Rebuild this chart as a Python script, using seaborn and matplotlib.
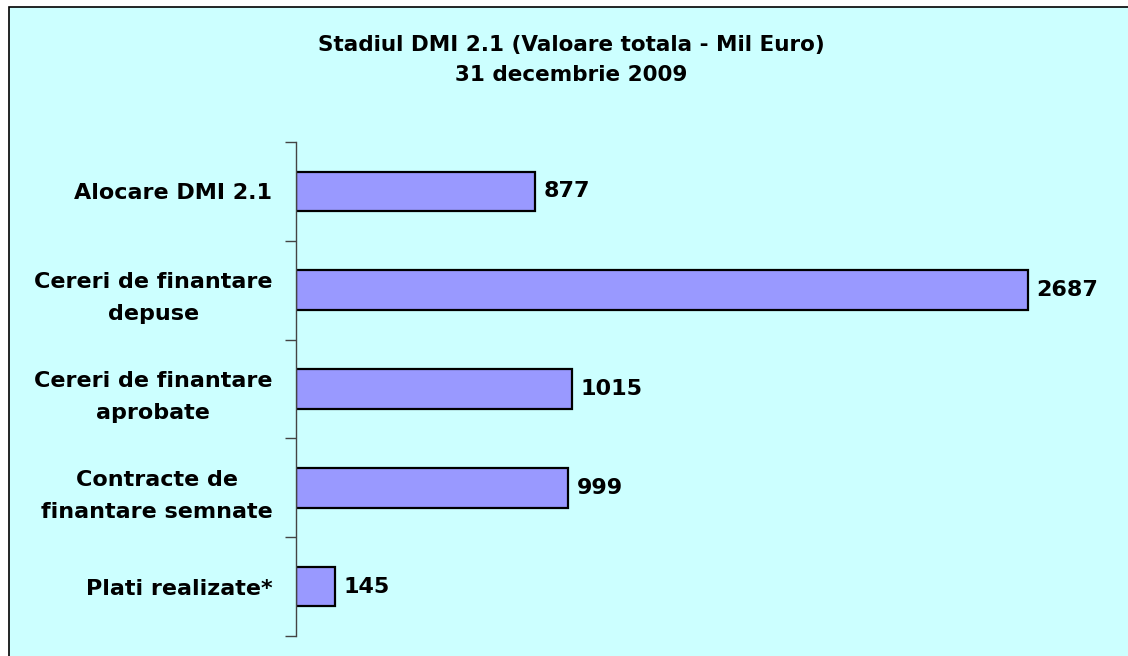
import matplotlib
matplotlib.use("Agg")
import matplotlib.pyplot as plt
from matplotlib.patches import Rectangle
from matplotlib.ticker import FixedLocator
import seaborn as sns
import pandas as pd

categories = [
    "Alocare DMI 2.1",
    "Cereri de finantare\ndepuse",
    "Cereri de finantare\naprobate",
    "Contracte de\nfinantare semnate",
    "Plati realizate*",
]
values = [877, 2687, 1015, 999, 145]
title = "Stadiul DMI 2.1 (Valoare totala - Mil Euro)\n31 decembrie 2009"

sns.set_theme(style="white")
plt.rcParams["font.family"] = ["DejaVu Sans"]
plt.rcParams["text.color"] = "black"
plt.rcParams["ytick.color"] = "black"

W, H = 1128, 656
fig = plt.figure(figsize=(W / 100, H / 100), dpi=100)
fig.patch.set_facecolor("white")

# cyan chart frame (cut off at right and bottom like the original)
frame = Rectangle((9 / W, -0.05), 1.2, 1 - 7 / H + 0.05,
                  transform=fig.transFigure, facecolor="#CCFFFF",
                  edgecolor="black", linewidth=1.2, zorder=-10)
fig.add_artist(frame)

ax = fig.add_axes([296 / W, 1 - 636 / H, (1113 - 296) / W, (636 - 142) / H])
ax.set_facecolor("none")

df = pd.DataFrame({"cat": categories, "val": values})
sns.barplot(data=df, x="val", y="cat", orient="h", color="#9999FF",
            saturation=1, edgecolor="black", linewidth=1.6, width=0.4, ax=ax)

ax.set_xlim(0, 3000)
ax.set_ylim(len(categories) - 0.5, -0.5)
ax.set_xlabel("")
ax.set_ylabel("")
ax.xaxis.set_visible(False)
for s in ["top", "right", "bottom"]:
    ax.spines[s].set_visible(False)
ax.spines["left"].set_color("#444444")
ax.spines["left"].set_linewidth(1.0)

ax.yaxis.set_minor_locator(FixedLocator([i - 0.5 for i in range(len(categories) + 1)]))
ax.tick_params(axis="y", which="major", length=0, pad=17, labelcolor="black")
ax.tick_params(axis="y", which="minor", left=True, length=8, width=1.0, color="#444444")
for lbl in ax.get_yticklabels():
    lbl.set_fontweight("bold")
    lbl.set_fontsize(16)
    lbl.set_multialignment("center")
    lbl.set_linespacing(1.75)

ax.bar_label(ax.containers[0], padding=6, fontsize=16, fontweight="bold", color="black")

fig.text(571 / W, 1 - 60 / H, title, ha="center", va="center", color="black",
         fontsize=15.5, fontweight="bold", linespacing=1.65)

fig.savefig("out.png", dpi=100, facecolor=fig.get_facecolor())
